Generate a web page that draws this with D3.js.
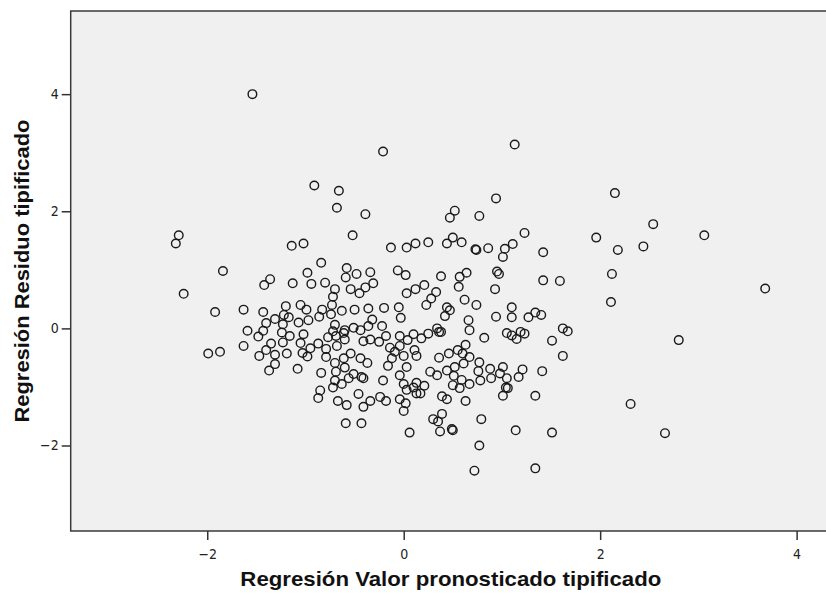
<!DOCTYPE html>
<html>
<head>
<meta charset="utf-8">
<script src="https://cdn.jsdelivr.net/npm/d3@7"></script>
<style>
  body { margin: 0; background: #fff; }
  .tick text { font-family: "DejaVu Sans Condensed", "DejaVu Sans", sans-serif; font-stretch: condensed; font-size: 14px; fill: #222; }
  .tick line { stroke: #333; stroke-width: 1.5; }
  .title { font-family: "Liberation Sans", Arial, sans-serif; font-weight: bold; font-size: 21px; fill: #111; }
</style>
</head>
<body>
<script>
var w = 826;
var h = 594;

// Regresión Valor pronosticado tipificado (x) and Residuo tipificado (y)
var predicted = [
  -2.29, -2.32, -1.84, -2.24, -1.14, -1.36, -1.42, -1.13, -1.92, -1.63, -1.43, -1.59, -1.20, -1.40, -1.31,
  -1.22, -1.17, -1.23, -1.43, -1.48, -1.24, -1.16, -1.23, -1.35, -1.63, -1.99, -1.87, -1.47, -1.40, -1.31,
  -1.19, -1.31, -1.37, -1.08, -1.07,
  -0.84, -0.98, -0.94, -0.80, -0.58, -0.48, -0.34, -0.59, -0.31, -0.39, -0.54, -0.45, -0.70, -0.72, -0.73,
  -0.06, 0.02, 0.03, 0.12, -1.05, -0.99, -0.83, -0.74, -0.63, -0.50, -0.36, -0.20, -0.05, -0.03, -0.32,
  -0.22, -0.36, -0.44, -0.51, -0.60, -0.70, -0.72, -0.86, -0.97, -1.02, -1.05, -0.87, -0.95, -1.03, -0.98,
  -0.79, -0.68, -0.77, -0.69, -0.60, -0.61, -0.41, -0.34, -0.25, -0.18, -0.04, 0.04, 0.10, 0.11, 0.13,
  -0.14, -0.04, -0.09, -0.12, 0.00, -0.16, 0.03, -0.04, 0.00, 0.03, 0.10, 0.13, 0.13, -0.21, -0.24,
  -0.18, -0.04, 0.02, 0.00, 0.06, -0.34, -0.41, -0.46, -0.41, -0.43, -0.51, -0.56, -0.63, -0.72, -0.70,
  -0.69, -0.60, -0.61, -0.70, -0.79, -0.54, -0.44, -0.37, -0.84, -0.85, -0.87, -0.67, -0.58, -0.59, -0.43,
  -1.54, -0.21, -0.91, -0.66, -0.68, -0.39, -0.52, -1.02, -0.13,
  0.03, 0.12, 1.13, 0.94, 0.52, 0.47, 0.77, 1.23, 0.25, 0.44, 0.50, 0.59, 0.73, 0.74, 0.86,
  1.03, 1.11, 1.01, 1.42, 0.38, 0.57, 0.64, 0.56, 0.95, 0.97, 0.93, 1.42, 1.59, 0.21, 0.33,
  0.28, 0.62,
  0.23, 0.44, 0.47, 0.42, 0.74, 0.66, 0.67, 0.94, 1.10, 1.10, 1.27, 1.34, 1.40, 1.62, 1.67,
  1.51, 1.62, 0.82, 1.05, 1.10, 1.15, 1.19, 1.23, 0.18, 0.25, 0.34, 0.36, 0.38, 0.36, 0.46,
  0.55, 0.63, 0.60, 0.67, 0.61, 0.77, 0.52, 0.44, 0.34, 0.27, 0.51, 0.59, 0.67, 0.50, 0.57,
  0.76, 0.78, 0.88, 0.89, 0.98, 1.01, 1.05, 1.04, 1.06, 1.01, 1.17, 1.21, 1.41, 1.34, 0.21,
  0.17, 0.39, 0.44, 0.63, 0.30, 0.39, 0.35, 0.37, 0.49, 0.50, 0.79, 0.77, 0.72, 1.14, 1.34,
  1.51,
  2.15, 2.54, 1.96, 2.18, 2.44, 3.06, 2.12, 2.11, 3.68, 2.80, 2.31, 2.66
];

var residual = [
  1.59, 1.45, 0.98, 0.59, 1.41, 0.84, 0.74, 0.77, 0.28, 0.32, 0.28, -0.04, 0.38, 0.09, 0.16,
  0.23, 0.19, 0.07, -0.04, -0.14, -0.07, -0.13, -0.24, -0.26, -0.30, -0.43, -0.40, -0.47, -0.37, -0.45,
  -0.43, -0.61, -0.72, -0.69, 0.10,
  1.12, 0.95, 0.76, 0.78, 1.03, 0.93, 0.96, 0.87, 0.77, 0.70, 0.67, 0.60, 0.67, 0.54, 0.40,
  0.99, 0.91, 0.60, 0.67, 0.40, 0.32, 0.32, 0.24, 0.30, 0.32, 0.34, 0.35, 0.36, 0.18, 0.15,
  0.04, 0.04, -0.03, 0.01, -0.03, 0.06, -0.05, 0.20, 0.14, -0.10, -0.25, -0.26, -0.34, -0.42, -0.48,
  -0.35, -0.30, -0.15, -0.13, -0.19, -0.08, -0.22, -0.19, -0.23, -0.13, -0.13, -0.20, -0.10, -0.37, -0.47,
  -0.33, -0.30, -0.40, -0.51, -0.47, -0.64, -0.66, -0.80, -0.95, -1.05, -1.01, -0.93, -1.11, -0.89, -1.17,
  -1.24, -1.21, -1.28, -1.41, -1.78, -1.24, -1.34, -1.12, -0.85, -0.83, -0.78, -0.85, -0.95, -1.01, -0.89,
  -0.74, -0.67, -0.51, -0.59, -0.49, -0.43, -0.51, -0.59, -0.76, -1.06, -1.19, -1.24, -1.31, -1.62, -1.62,
  4.00, 3.02, 2.44, 2.35, 2.06, 1.95, 1.59, 1.45, 1.38,
  1.38, 1.45, 3.14, 2.22, 2.01, 1.89, 1.92, 1.63, 1.47, 1.45, 1.55, 1.47, 1.35, 1.34, 1.37,
  1.36, 1.44, 1.22, 1.30, 0.89, 0.88, 0.95, 0.71, 0.97, 0.93, 0.67, 0.82, 0.81, 0.74, 0.62,
  0.51, 0.49,
  0.40, 0.36, 0.31, 0.21, 0.40, 0.14, -0.03, 0.20, 0.36, 0.19, 0.19, 0.27, 0.23, 0.00, -0.05,
  -0.21, -0.47, -0.16, -0.08, -0.12, -0.18, -0.06, -0.09, -0.17, -0.09, 0.00, -0.06, -0.06, -0.50, -0.43,
  -0.37, -0.28, -0.43, -0.49, -0.60, -0.58, -0.66, -0.72, -0.80, -0.74, -0.81, -0.88, -0.95, -0.97, -1.02,
  -0.73, -0.89, -0.69, -0.85, -0.77, -0.66, -0.85, -1.01, -1.02, -1.15, -0.83, -0.70, -0.73, -1.15, -0.98,
  -1.11, -1.16, -1.21, -1.24, -1.55, -1.46, -1.59, -1.76, -1.72, -1.74, -1.55, -2.00, -2.43, -1.74, -2.39,
  -1.78,
  2.31, 1.78, 1.55, 1.34, 1.40, 1.59, 0.93, 0.45, 0.68, -0.20, -1.29, -1.79
];

var xTicks = [-2, 0, 2, 4];
var yTicks = [-2, 0, 2, 4];
var xTitle = "Regresión Valor pronosticado tipificado";
var yTitle = "Regresión Residuo tipificado";

var plot = { left: 70.7, right: 831, top: 11, bottom: 531 };

var svg = d3.select("body").append("svg")
  .attr("width", w)
  .attr("height", h);

var x = d3.scaleLinear().domain([-3.39, 4.35]).range([plot.left, plot.right]);
var y = d3.scaleLinear().domain([-3.46, 5.42]).range([plot.bottom, plot.top]);

// Plot background
svg.append("rect")
  .attr("x", plot.left)
  .attr("y", plot.top)
  .attr("width", plot.right - plot.left)
  .attr("height", plot.bottom - plot.top)
  .attr("fill", "#f0f0f0")
  .attr("stroke", "#3a3a3a")
  .attr("stroke-width", 1.5);

// Axes
var fmt = d => d < 0 ? "\u2212" + Math.abs(d) : String(d);

svg.append("g")
  .attr("transform", "translate(0," + plot.bottom + ")")
  .call(d3.axisBottom(x).tickValues(xTicks).tickSize(9).tickPadding(9).tickFormat(fmt))
  .call(g => g.select(".domain").remove());

svg.append("g")
  .attr("transform", "translate(" + plot.left + ",0)")
  .call(d3.axisLeft(y).tickValues(yTicks).tickSize(9).tickPadding(3).tickFormat(fmt))
  .call(g => g.select(".domain").remove());

// Points
var points = predicted.map((d, i) => ({ x: d, y: residual[i] }));

svg.append("g")
  .selectAll("circle")
  .data(points)
  .enter().append("circle")
  .attr("cx", d => x(d.x))
  .attr("cy", d => y(d.y))
  .attr("r", 4.3)
  .attr("fill", "none")
  .attr("stroke", "#1a1a1a")
  .attr("stroke-width", 1.4);

// Axis titles
svg.append("text")
  .attr("class", "title")
  .attr("x", (plot.left + plot.right) / 2)
  .attr("y", 586)
  .attr("text-anchor", "middle")
  .attr("textLength", 421)
  .attr("lengthAdjust", "spacingAndGlyphs")
  .text(xTitle);

svg.append("text")
  .attr("class", "title")
  .attr("transform", "translate(29," + (plot.top + plot.bottom) / 2 + ") rotate(-90)")
  .attr("text-anchor", "middle")
  .attr("textLength", 303)
  .attr("lengthAdjust", "spacingAndGlyphs")
  .text(yTitle);
</script>
</body>
</html>
